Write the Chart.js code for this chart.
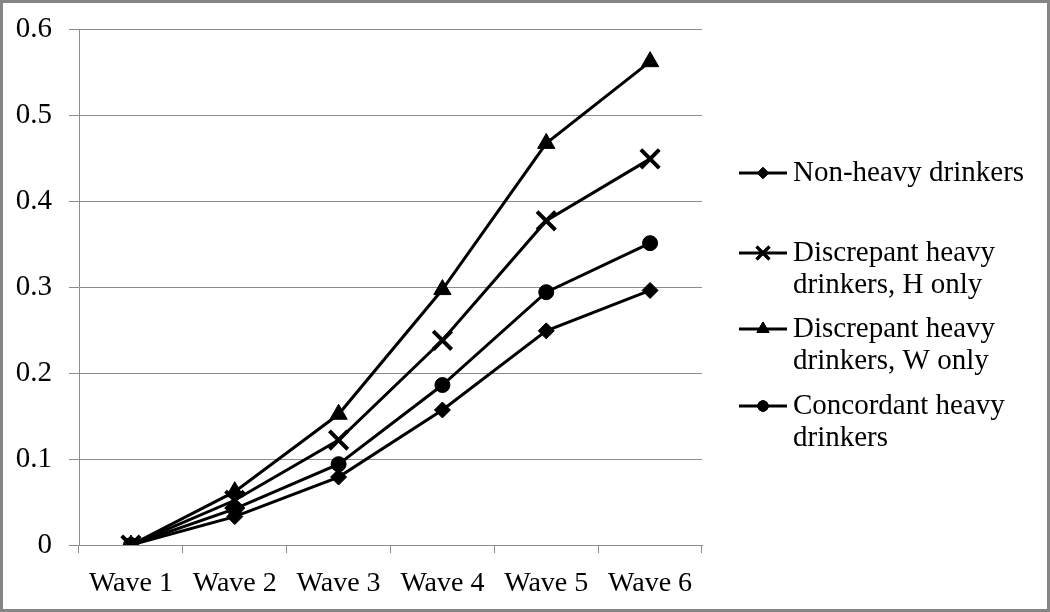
<!DOCTYPE html>
<html>
<head>
<meta charset="utf-8">
<script src="https://cdn.jsdelivr.net/npm/chart.js@4.4.1/dist/chart.umd.min.js"></script>
<style>
  html, body { margin: 0; padding: 0; background: #fff; }
  #frame { width: 1050px; height: 612px; box-sizing: border-box; border: 3px solid #858585; }
  #wrap { position: relative; width: 1044px; height: 606px; }
</style>
</head>
<body>
<div id="frame"><div id="wrap"><canvas id="wavesChart"></canvas></div></div>
<script>
// categories and series
const waves = ["Wave 1", "Wave 2", "Wave 3", "Wave 4", "Wave 5", "Wave 6"];
const nonHeavy = [0, 0.033, 0.079, 0.157, 0.249, 0.296];
const discrepantH = [0, 0.052, 0.122, 0.238, 0.377, 0.449];
const discrepantW = [0, 0.062, 0.152, 0.297, 0.467, 0.562];
const concordant = [0, 0.042, 0.094, 0.186, 0.294, 0.351];
const yMin = 0, yMax = 0.6, yStep = 0.1;

const seriesLabels = [
    ["Non-heavy drinkers"],
    ["Discrepant heavy", "drinkers, H only"],
    ["Discrepant heavy", "drinkers, W only"],
    ["Concordant heavy", "drinkers"],
];

const FONT = '"Liberation Serif", "Times New Roman", serif';
const GRID = "#8c8c8c";

function makeSeries(data, label, style, radius, borderW) {
    return {
        label: label.join(" "),
        legendLines: label,
        data: data,
        borderColor: "#000",
        backgroundColor: "#000",
        borderWidth: 3,
        tension: 0,
        pointStyle: style,
        pointRadius: radius,
        pointBackgroundColor: "#000",
        pointBorderColor: "#000",
        pointBorderWidth: borderW,
    };
}

// draws the right-hand legend with two-line labels, like Excel does
const sideLegend = {
    id: "sideLegend",
    afterDraw(chart) {
        const ctx = chart.ctx;
        const rows = [170, 250, 326, 403];
        const lineH = 32;
        ctx.save();
        ctx.font = "29px " + FONT;
        ctx.fillStyle = "#000";
        ctx.textBaseline = "middle";
        chart.data.datasets.forEach((ds, i) => {
            const y = rows[i];
            ctx.strokeStyle = "#000";
            ctx.lineWidth = 3;
            ctx.beginPath();
            ctx.moveTo(736, y);
            ctx.lineTo(784, y);
            ctx.stroke();
            ctx.lineWidth = Math.min(ds.pointBorderWidth, 3);
            Chart.helpers.drawPoint(ctx, {
                pointStyle: ds.pointStyle,
                radius: ds.pointRadius * 0.7,
                rotation: 0,
                borderWidth: ds.pointBorderWidth,
            }, 760, y);
            ctx.fill();
            ctx.stroke();
            ds.legendLines.forEach((t, k) => ctx.fillText(t, 790, y + k * lineH));
        });
        ctx.restore();
    },
};

const ctx = document.getElementById("wavesChart").getContext("2d");
new Chart(ctx, {
    type: "line",
    data: {
        labels: waves,
        datasets: [
            makeSeries(nonHeavy, seriesLabels[0], "rectRot", 8, 1),
            makeSeries(discrepantH, seriesLabels[1], "crossRot", 13, 4),
            makeSeries(discrepantW, seriesLabels[2], "triangle", 10, 1),
            makeSeries(concordant, seriesLabels[3], "circle", 7.5, 1),
        ],
    },
    plugins: [sideLegend],
    options: {
        responsive: true,
        maintainAspectRatio: false,
        animation: false,
        layout: { padding: { top: 26, right: 345, left: 0, bottom: 0 } },
        plugins: { legend: { display: false }, tooltip: { enabled: false } },
        scales: {
            x: {
                offset: true,
                grid: { offset: true, drawOnChartArea: false, drawTicks: true, tickLength: 8, color: GRID, lineWidth: 1 },
                border: { color: GRID, width: 1 },
                ticks: { color: "#000", font: { family: FONT, size: 28 }, padding: 14, maxRotation: 0 },
                afterFit: (s) => { s.height = 64; },
            },
            y: {
                min: yMin,
                max: yMax,
                grid: { color: GRID, lineWidth: 1, tickLength: 10 },
                border: { color: GRID, width: 1 },
                ticks: { stepSize: yStep, color: "#000", font: { family: FONT, size: 29, lineHeight: 0.6 }, padding: 17 },
                afterFit: (s) => { s.width = 76; },
            },
        },
    },
});
</script>
</body>
</html>
